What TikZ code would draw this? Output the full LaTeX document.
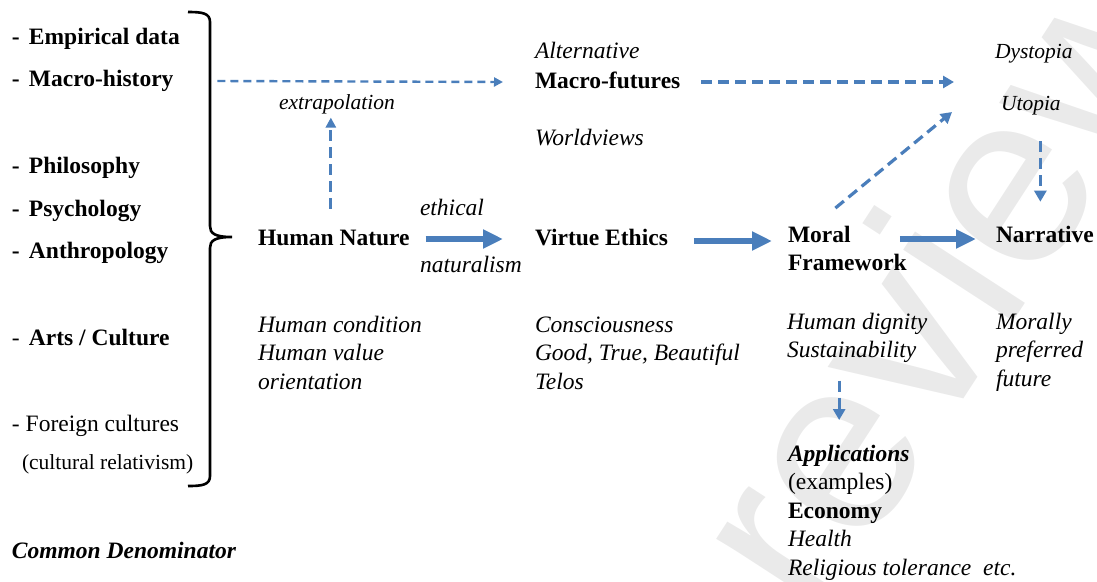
\documentclass[tikz,border=0pt]{standalone}
\usepackage{fontspec}
\setmainfont{Liberation Serif}
\newfontfamily\markfont{Liberation Sans}
\usetikzlibrary{arrows.meta,calc}
\definecolor{flow}{RGB}{74,126,187}
\definecolor{markgray}{RGB}{234,234,234}
% multi-line text whose baseline is the first line
\newcommand\stacklines[1]{\begin{tabular}[t]{@{}l@{}}#1\end{tabular}}
\newcommand\dashitem{\makebox[17pt][l]{-}}

\begin{document}
\begin{tikzpicture}[x=1pt,y=-1pt,
  lbl/.style={anchor=base west,inner sep=0pt,outer sep=0pt,font=\fontsize{23.5}{28.5}\selectfont},
  smalllbl/.style={lbl,font=\fontsize{21.5}{26}\selectfont},
  bold arrow/.style={draw=flow,line width=5.5pt,-{Triangle[length=20pt,width=18pt]}},
  thin dash/.style={draw=flow,line width=2.4pt,dash pattern=on 8pt off 5pt,-{Triangle[length=9pt,width=9pt]}},
  dash arrow/.style={draw=flow,line width=3.2pt,dash pattern=on 11pt off 6pt,-{Triangle[length=11pt,width=12pt]}},
]
\useasboundingbox (0,0) rectangle (1097,581);

% faint background mark
\begin{scope}
  \clip (0,0) rectangle (1097,581);
  \node[font=\markfont\fontsize{248}{248}\selectfont,text=markgray,rotate=57,inner sep=0pt] (wm) at (938,276) {review};
\end{scope}

% sources
\node[lbl] (emp)  at (12,44)  {\bfseries\dashitem Empirical data};
\node[lbl] (mh)   at (12,86)  {\bfseries\dashitem Macro-history};
\node[lbl] (phil) at (12,173) {\bfseries\dashitem Philosophy};
\node[lbl] (psy)  at (12,216) {\bfseries\dashitem Psychology};
\node[lbl] (anth) at (12,258) {\bfseries\dashitem Anthropology};
\node[lbl] (arts) at (12,345) {\dashitem\textbf{Arts / Culture}};
\node[lbl] (forc) at (12,431) {- Foreign cultures};
\node[smalllbl] (rel) at (22,469) {(cultural relativism)};
\node[lbl] (cd)   at (12,558) {\bfseries\itshape Common Denominator};

% brace gathering the sources
\draw[line width=2.6pt] (188,12) .. controls (202,12) and (210,13) .. (210,22)
  -- (210,226) .. controls (210,233) and (214,237) .. (232,237)
  .. controls (214,237) and (210,241) .. (210,248)
  -- (210,476) .. controls (210,485) and (202,486) .. (188,486);

% upper row
\node[smalllbl] (ext) at (279,109) {\itshape extrapolation};
\node[lbl] (alt)  at (535,58)  {\itshape Alternative};
\node[lbl] (mfut) at (535,88)  {\bfseries Macro-futures};
\node[lbl] (wv)   at (535,145) {\itshape Worldviews};
\node[smalllbl] (dys) at (995,58)  {\itshape Dystopia};
\node[smalllbl] (uto) at (1001,110) {\itshape Utopia};

% main chain
\node[lbl] (eth) at (420,215) {\itshape ethical};
\node[lbl] (nat) at (420,272) {\itshape naturalism};
\node[lbl] (hn)  at (258,245) {\bfseries Human Nature};
\node[lbl] (ve)  at (535,245) {\bfseries Virtue Ethics};
\node[lbl] (mfw) at (788,242) {\bfseries\stacklines{Moral\\Framework}};
\node[lbl] (nar) at (996,242) {\bfseries Narrative};

% descriptions
\node[lbl] (hc)   at (258,332) {\itshape\stacklines{Human condition\\Human value\\orientation}};
\node[lbl] (cons) at (535,332) {\itshape\stacklines{Consciousness\\Good, True, Beautiful\\Telos}};
\node[lbl] (hds)  at (787,329) {\itshape\stacklines{Human dignity\\Sustainability}};
\node[lbl] (mpf)  at (996,329) {\itshape\stacklines{Morally\\preferred\\future}};
\node[lbl] (app)  at (788,461) {\stacklines{\textbf{\textit{Applications}}\\(examples)\\\textbf{Economy}\\\textit{Health}\\\textit{Religious tolerance\ \ etc.}}};

% solid flow
\draw[bold arrow] ($(hn.base east)+(16,-6)$) -- ($(ve.base west)+(-32,-6)$);
\draw[bold arrow] ($(ve.base east)+(26,-4)$) -- ($(mfw.base west)+(-16,-1)$);
\draw[bold arrow] ($(mfw.base east)+(-7,-3)$) -- ($(nar.base west)+(-20,-3)$);

% dashed flow
\draw[thin dash] ($(mh.base east)+(44,-5)$) -- ($(mfut.base west)+(-32,-6)$);
\draw[dash arrow,-{Triangle[length=10pt,width=10pt]}] ($(hn.north)+(-3,-21)$) -- ($(hn.north |- ext.south)+(-3,4)$);
\draw[dash arrow] ($(mfut.base east)+(21,-6)$) -- ($(dys.base west)!0.5!(uto.base west)+(-44,-2)$);
\draw[dash arrow] ($(mfw.north)+(-12,-14)$) -- ($(uto.base west)+(-49,2)$);
\coordinate (u1) at ($(uto.base)+(9.5,31)$);
\draw[dash arrow] (u1) -- ($(u1 |- nar.north)+(0,-24)$);
\coordinate (m1) at ($(hds.south)+(-18,14.5)$);
\draw[dash arrow] (m1) -- ($(m1 |- app.north)+(0,-21)$);
\end{tikzpicture}
\end{document}
